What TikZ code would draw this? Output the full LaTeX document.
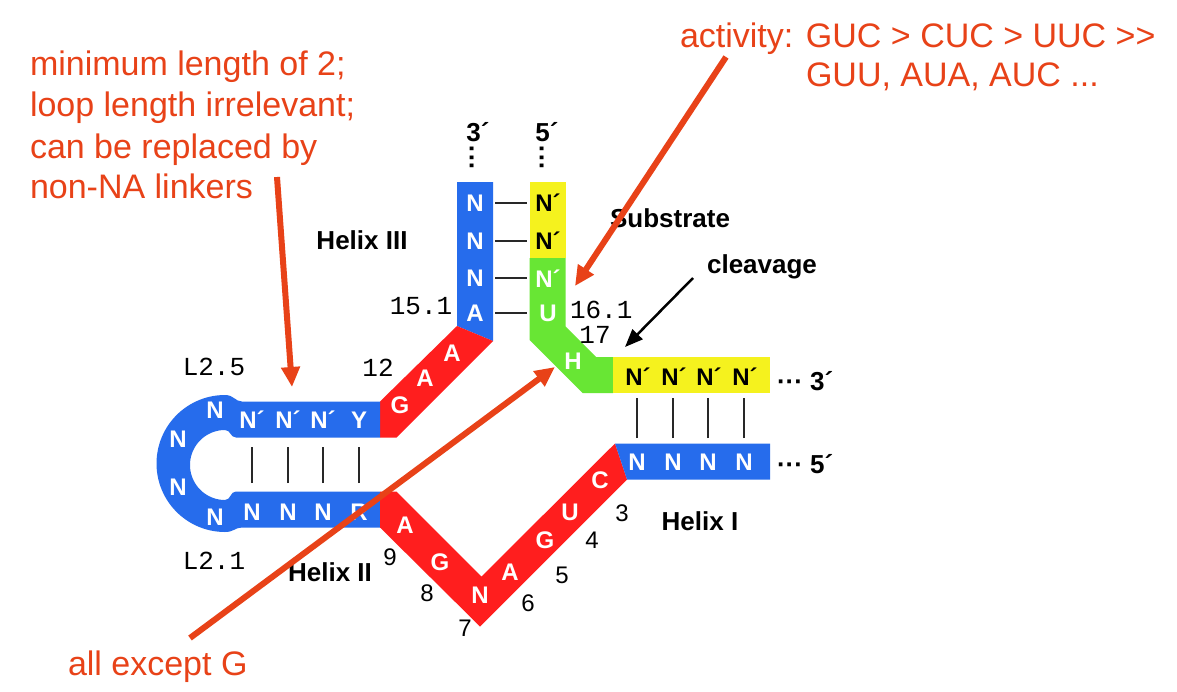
\documentclass[tikz,border=0pt]{standalone}
\usepackage{fontspec}
\setmainfont{Liberation Sans}
\newfontfamily\monofont{Liberation Mono}
\usetikzlibrary{arrows.meta}
\definecolor{rnablue}{RGB}{38,108,236}
\definecolor{rnared}{RGB}{255,30,30}
\definecolor{rnagreen}{RGB}{104,230,52}
\definecolor{rnayellow}{RGB}{245,242,30}
\definecolor{annot}{RGB}{232,66,24}
\definecolor{pairgray}{RGB}{40,40,40}
\begin{document}
\begin{tikzpicture}[x=1pt,y=-1pt,
  every node/.style={inner sep=0pt, outer sep=0pt},
  wl/.style={text=white, font=\fontsize{24}{24}\selectfont\bfseries},
  kl/.style={text=black, font=\fontsize{24}{24}\selectfont\bfseries},
  lab/.style={font=\fontsize{26}{26}\selectfont\bfseries},
  mono/.style={font=\fontsize{26}{26}\selectfont\monofont},
  num/.style={font=\fontsize{24}{24}\selectfont},
  note/.style={text=annot, font=\fontsize{34}{34}\selectfont, anchor=base west},
  pairline/.style={draw=pairgray, line width=2.2pt},
  oarrow/.style={draw=annot, line width=6pt, -{Triangle[length=20pt,width=18pt]}},
  karrow/.style={draw=black, line width=2.5pt, -{Triangle[length=18pt,width=14pt]}},
]
\fill[white] (0,0) rectangle (1177,691);
\useasboundingbox (0,0) rectangle (1177,691);

% ---------- strands ----------
% Helix III (ribozyme strand)
\fill[rnablue] (457,182) -- (493,182) -- (493,341) -- (457,326) -- cycle;
\fill[rnared] (380,401.5) -- (457,326) -- (493,341) -- (396.5,437.5) -- (380,437.5) -- cycle;
% Helix II with loop
\fill[rnablue] (380,401.5) -- (242,401.5) .. controls (235,401.5) and (234,395) .. (225,395)
  -- plot[domain=-90:-270,samples=60] ({225+68.5*cos(\x)},{463.5+68.5*sin(\x)})
  .. controls (234,532) and (235,527.5) .. (242,527.5) -- (380,527.5) -- (380,491.5) -- (236,491.5)
  .. controls (230,491.5) and (231,500) .. (225,500)
  -- plot[domain=-270:-90,samples=60] ({225+35*cos(\x)},{465+35*sin(\x)})
  .. controls (231,430) and (230,437.5) .. (236,437.5) -- (380,437.5) -- cycle;
% catalytic core (lower)
\fill[rnared] (380,491.5) -- (396.5,491.5) -- (481.5,576.5) -- (615,443.5) -- (627,479.5)
  -- (480,626.5) -- (380,527.5) -- cycle;
% Helix I (ribozyme strand)
\fill[rnablue] (615,443.5) -- (770,443.5) -- (770,479.5) -- (627,479.5) -- cycle;
% substrate
\fill[rnayellow] (529.5,182) -- (565.5,182) -- (565.5,258) -- (529.5,258) -- cycle;
\fill[rnagreen] (529.5,258) -- (565.5,258) -- (565.5,326.5) -- (596,357) -- (613,357)
  -- (613,393) -- (582.5,393) -- (529.5,340) -- cycle;
\fill[rnayellow] (613,357) -- (770,357) -- (770,393) -- (613,393) -- cycle;

% ---------- letters ----------
% Helix III
\node[wl] (a1) at (475,203) {N};
\node[wl] (a2) at (475,241) {N};
\node[wl] (a3) at (475,278) {N};
\node[wl] (a4) at (475,313) {A};
\node[kl] (s1) at (548,203) {N´};
\node[kl] (s2) at (548,241) {N´};
\node[wl] (s3) at (548,279) {N´};
\node[wl] (s4) at (548,313) {U};
\node[wl] (s5) at (573,361) {H};
% GAA
\node[wl] (g1) at (400,405) {G};
\node[wl] (g2) at (425,378) {A};
\node[wl] (g3) at (452,353) {A};
% Helix II top strand and loop
\node[wl] (l1) at (215,410) {N};
\node[wl] (t1) at (252,420) {N´};
\node[wl] (t2) at (288,420) {N´};
\node[wl] (t3) at (323,420) {N´};
\node[wl] (t4) at (359,420) {Y};
\node[wl] (l2) at (178,439) {N};
\node[wl] (l3) at (178,487) {N};
\node[wl] (l4) at (215,517) {N};
\node[wl] (b1) at (252,512) {N};
\node[wl] (b2) at (288,512) {N};
\node[wl] (b3) at (323,512) {N};
\node[wl] (b4) at (359,512) {R};
% core lower
\node[wl] (c9) at (405,525) {A};
\node[wl] (c8) at (440,562) {G};
\node[wl] (c7) at (480,595) {N};
\node[wl] (c6) at (510,572) {A};
\node[wl] (c5) at (545,540) {G};
\node[wl] (c4) at (570,512) {U};
\node[wl] (c3) at (600,480) {C};
% Helix I
\node[kl] (y1) at (638,377) {N´};
\node[kl] (y2) at (674,377) {N´};
\node[kl] (y3) at (709,377) {N´};
\node[kl] (y4) at (745,377) {N´};
\node[wl] (z1) at (637,462) {N};
\node[wl] (z2) at (673,462) {N};
\node[wl] (z3) at (708,462) {N};
\node[wl] (z4) at (744,462) {N};

% ---------- base pairs ----------
\foreach \p/\q in {a1/s1,a2/s2,a3/s3,a4/s4}
  \draw[pairline, shorten <=20pt, shorten >=21pt] (\p.center) -- (\q.center |- \p.center);
\foreach \p/\q in {b1/t1,b2/t2,b3/t3,b4/t4}
  \draw[pairline, shorten <=29pt, shorten >=27pt] (\p.center) -- (\p.center |- \q.center);
\foreach \p/\q in {z1/y1,z2/y2,z3/y3,z4/y4}
  \draw[pairline, shorten <=24pt, shorten >=21pt] (\p.center) -- (\p.center |- \q.center);

% ---------- labels ----------
\node[lab] (e3top) at (478,132) {3´};
\node[lab] (e5top) at (547,132) {5´};
\node[lab, rotate=90] (d3top) at (475,157) {···};
\node[lab, rotate=90] (d5top) at (545,157) {···};
\node[lab] (hx3) at (362,240) {Helix III};
\node[lab] (sub) at (670,218) {Substrate};
\node[lab] (clv) at (762,267) {cleavage};
\node[lab] (hx2) at (330,572) {Helix II};
\node[lab] (hx1) at (700,521) {Helix I};
\node[lab, anchor=west] (e3r) at (777,381) {··· 3´};
\node[lab, anchor=west] (e5r) at (777,464) {··· 5´};

\node[mono] (m25) at (214,367) {L2.5};
\node[mono] (m21) at (214,561) {L2.1};
\node[mono] (m12) at (378,368) {12};
\node[mono] (m151) at (421,306) {15.1};
\node[mono, anchor=west] (m161) at (570,310) {16.1};
\node[mono] (m17) at (595,335) {17};

\node[num] (n3) at (622,513) {3};
\node[num] (n4) at (592,540) {4};
\node[num] (n5) at (562,575) {5};
\node[num] (n6) at (528,603) {6};
\node[num] (n7) at (465,628) {7};
\node[num] (n8) at (427,593) {8};
\node[num] (n9) at (390,557) {9};

% ---------- annotations ----------
\node[note] (tx1) at (30,75) {minimum length of 2;};
\node[note] (tx2) at (30,116) {loop length irrelevant;};
\node[note] (tx3) at (30,158) {can be replaced by};
\node[note] (tx4) at (30,198) {non-NA linkers};
\node[note] (ty1) at (680,47) {activity: GUC > CUC > UUC >{}>};
\node[note] (ty2) at (806,86) {GUU, AUA, AUC ...};
\node[note] (tz1) at (68,675) {all except G};

\coordinate (cs) at (693,278);
\coordinate (ce) at (625,347);
\draw[karrow] (cs) -- (ce);

\coordinate (o1s) at (277,177);
\coordinate (o1e) at (292,387);
\coordinate (o2s) at (726,57);
\coordinate (o2e) at (575,286);
\coordinate (o3s) at (190,638);
\coordinate (o3e) at (555,367);
\draw[oarrow] (o1s) -- (o1e);
\draw[oarrow] (o2s) -- (o2e);
\draw[oarrow] (o3s) -- (o3e);
\end{tikzpicture}
\end{document}
